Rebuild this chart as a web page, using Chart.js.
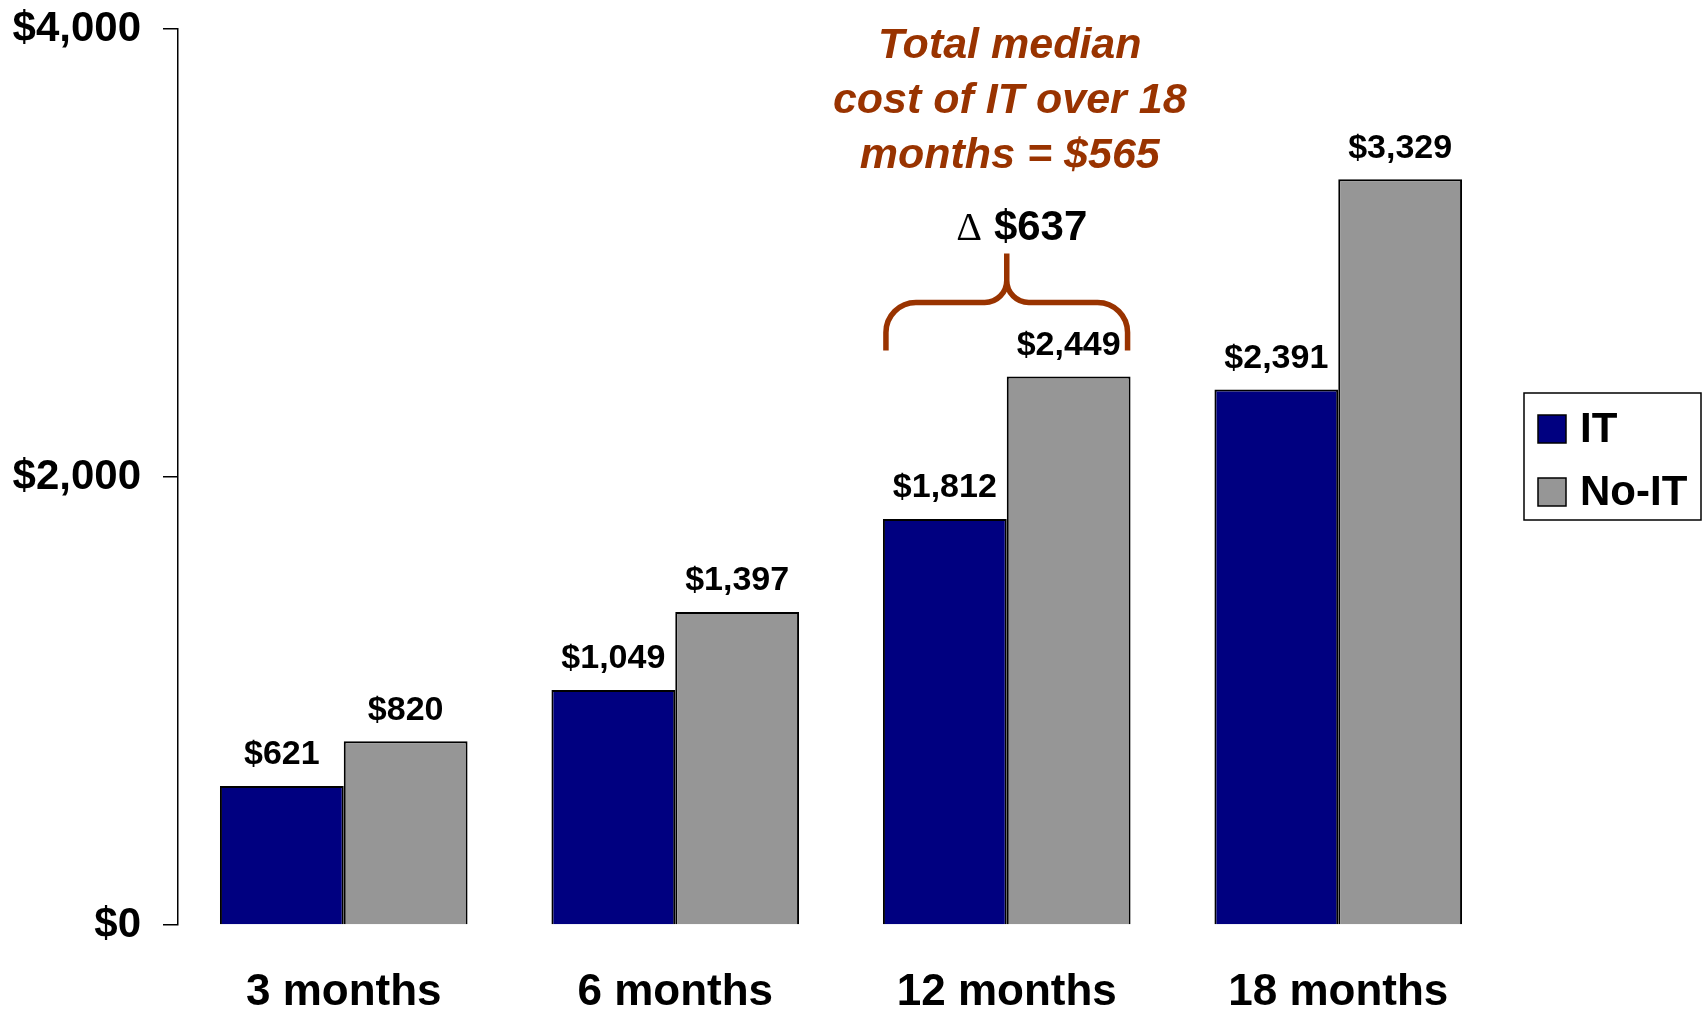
<!DOCTYPE html>
<html>
<head>
<meta charset="utf-8">
<script src="https://cdn.jsdelivr.net/npm/chart.js@4.4.1/dist/chart.umd.min.js"></script>
<style>
  html, body { margin: 0; padding: 0; background: #fff; }
  #wrap { width: 1708px; height: 1009px; }
</style>
</head>
<body>
<div id="wrap"><canvas id="chart" width="1708" height="1009"></canvas></div>
<script>
// datos del gráfico
const categories = ['3 months', '6 months', '12 months', '18 months'];
const itValues = [621, 1049, 1812, 2391];
const noItValues = [820, 1397, 2449, 3329];
const seriesNames = ['IT', 'No-IT'];
const seriesColors = ['#000080', '#969696'];
const yTicks = [0, 2000, 4000];
const noteLines = ['Total median', 'cost of IT over 18', 'months = $565'];
const braceCategory = 2; // 12 months

const FONT = '"Liberation Sans", Arial, sans-serif';
const BROWN = '#993300';

function money(v) {
    return '$' + v.toLocaleString('en-US');
}

// etiquetas encima de cada barra
const valueLabels = {
    id: 'valueLabels',
    afterDatasetsDraw(chart) {
        const ctx = chart.ctx;
        ctx.save();
        ctx.font = 'bold 34px ' + FONT;
        ctx.fillStyle = '#000';
        ctx.textAlign = 'center';
        ctx.textBaseline = 'middle';
        chart.data.datasets.forEach((ds, i) => {
            chart.getDatasetMeta(i).data.forEach((bar, j) => {
                ctx.fillText(money(ds.data[j]), bar.x, bar.y - 31);
            });
        });
        ctx.restore();
    }
};

// llave, delta y nota en marrón
const braceNote = {
    id: 'braceNote',
    afterDraw(chart) {
        const ctx = chart.ctx;
        const a = chart.getDatasetMeta(0).data[braceCategory];
        const b = chart.getDatasetMeta(1).data[braceCategory];
        const xL = a.x - a.width / 2 + 3;
        const xR = b.x + b.width / 2 - 3;
        const xm = (xL + xR) / 2;
        const top = b.y;
        const yB = top - 26, yH = top - 74, yP = top - 123;
        const r = 30, r2 = 22;

        ctx.save();
        ctx.strokeStyle = BROWN;
        ctx.lineWidth = 5.5;
        ctx.beginPath();
        ctx.moveTo(xL, yB);
        ctx.arcTo(xL, yH, xL + r, yH, r);
        ctx.lineTo(xm - r2, yH);
        ctx.arcTo(xm, yH, xm, yH - r2, r2);
        ctx.lineTo(xm, yP);
        ctx.moveTo(xR, yB);
        ctx.arcTo(xR, yH, xR - r, yH, r);
        ctx.lineTo(xm + r2, yH);
        ctx.arcTo(xm, yH, xm, yH - r2, r2);
        ctx.lineTo(xm, yP);
        ctx.stroke();

        // delta
        const delta = noItValues[braceCategory] - itValues[braceCategory];
        ctx.fillStyle = '#000';
        ctx.textBaseline = 'middle';
        ctx.textAlign = 'left';
        const dFont = '40px "Liberation Serif", serif';
        const vFont = 'bold 42px ' + FONT;
        ctx.font = dFont;
        const dW = ctx.measureText('\u0394').width;
        ctx.font = vFont;
        const vW = ctx.measureText(money(delta)).width;
        const gap = 12;
        const x0 = xm + 15 - (dW + gap + vW) / 2;
        ctx.font = dFont;
        ctx.fillText('\u0394', x0, top - 147);
        ctx.font = vFont;
        ctx.fillText(money(delta), x0 + dW + gap, top - 148);

        // nota
        ctx.fillStyle = BROWN;
        ctx.textAlign = 'center';
        ctx.font = 'italic bold 43px ' + FONT;
        noteLines.forEach((t, i) => {
            ctx.fillText(t, xm + 3, chart.chartArea.top + 17 + i * 55);
        });
        ctx.restore();
    }
};

// leyenda con recuadro
const boxLegend = {
    id: 'boxLegend',
    afterDraw(chart) {
        const ctx = chart.ctx;
        const left = chart.chartArea.right + 20;
        const top = 393, w = 177, h = 127;
        ctx.save();
        ctx.strokeStyle = '#000';
        ctx.lineWidth = 1.5;
        ctx.strokeRect(left, top, w, h);
        ctx.font = 'bold 42px ' + FONT;
        ctx.textBaseline = 'middle';
        ctx.textAlign = 'left';
        seriesNames.forEach((name, i) => {
            const cy = top + 36 + i * 63;
            ctx.fillStyle = seriesColors[i];
            ctx.fillRect(left + 14, cy - 14, 28, 28);
            ctx.strokeRect(left + 14, cy - 14, 28, 28);
            ctx.fillStyle = '#000';
            ctx.fillText(name, left + 56, cy + 1);
        });
        ctx.restore();
    }
};

const ctx = document.getElementById('chart');
new Chart(ctx, {
    type: 'bar',
    data: {
        labels: categories,
        datasets: [
            {
                label: seriesNames[0],
                data: itValues,
                backgroundColor: seriesColors[0],
                borderColor: '#000',
                borderWidth: 2,
                barPercentage: 1,
                categoryPercentage: 0.747,
            },
            {
                label: seriesNames[1],
                data: noItValues,
                backgroundColor: seriesColors[1],
                borderColor: '#000',
                borderWidth: 2,
                barPercentage: 1,
                categoryPercentage: 0.747,
            },
        ],
    },
    options: {
        responsive: false,
        animation: false,
        layout: {
            padding: { left: 13, right: 204, top: 29, bottom: 0 },
        },
        plugins: {
            legend: { display: false },
            tooltip: { enabled: false },
        },
        scales: {
            x: {
                grid: { display: false, drawTicks: false },
                border: { display: false },
                afterFit(scale) {
                    scale.height = 84;
                    scale.paddingLeft = 0;
                    scale.paddingRight = 0;
                },
                ticks: {
                    color: '#000',
                    padding: 46,
                    font: { family: FONT, size: 44, weight: 'bold', lineHeight: 1 },
                },
            },
            y: {
                min: 0,
                max: 4000,
                afterBuildTicks(scale) {
                    scale.ticks = yTicks.map((v) => ({ value: v }));
                },
                afterFit(scale) {
                    scale.width = 165;
                    scale.paddingTop = 0;
                    scale.paddingBottom = 0;
                },
                grid: {
                    drawOnChartArea: false,
                    drawTicks: true,
                    tickLength: 15,
                    color: '#000',
                    lineWidth: 1.5,
                },
                border: { display: true, color: '#000', width: 1.5 },
                ticks: {
                    color: '#000',
                    padding: 22,
                    font: { family: FONT, size: 42, weight: 'bold', lineHeight: 1 },
                    callback: (v) => money(v),
                },
            },
        },
    },
    plugins: [valueLabels, braceNote, boxLegend],
});
</script>
</body>
</html>
